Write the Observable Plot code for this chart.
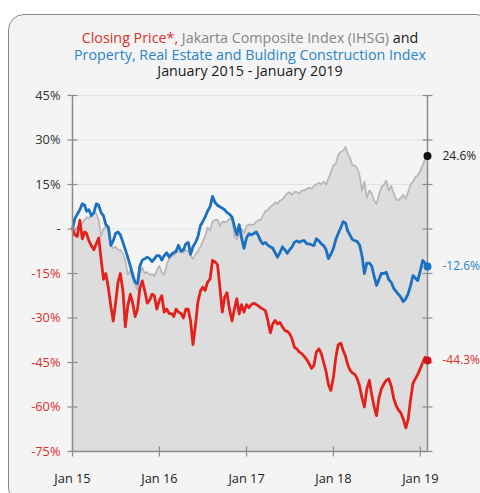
<!DOCTYPE html>
<html><head><meta charset="utf-8">
<script src="https://cdn.jsdelivr.net/npm/d3@7"></script>
<script src="https://cdn.jsdelivr.net/npm/@observablehq/plot@0.6"></script>
<style>
html,body{margin:0;padding:0;background:#fff;}
#wrap{position:relative;width:480px;height:493px;overflow:hidden;font-family:"Open Sans",sans-serif;}
#panel{position:absolute;left:8px;top:14px;width:484px;height:490px;border:1px solid #8a8a8a;border-radius:16px;background:#f4f4f4;box-sizing:border-box;}
#title{position:absolute;left:0;top:30px;width:500px;text-align:center;font-size:14.3px;color:#1a1a1a;white-space:nowrap;}
#title div{height:16.5px;line-height:16.5px;}
#title span{display:inline-block;line-height:16.5px;height:16.5px;}
#chart{position:absolute;left:0;top:80px;}
</style></head>
<body>
<div id="wrap">
<div id="panel"></div>
<div id="title">
<div><span style="color:#d9302c">Closing Price*,</span> <span style="color:#858585">Jakarta Composite Index (IHSG)</span> <span>and</span></div>
<div><span style="color:#2a85c6">Property, Real Estate and Bulding Construction Index</span></div>
<div><span>January 2015 - January 2019</span></div>
</div>
<div id="chart"></div>
</div>
<script>
// Sampling dates: 1st, 11th, 21st of each month, Jan 2015 - Jan 2019, plus last day
const sampleDays = [1, 11, 21];
const years = [2015, 2016, 2017, 2018];
const lastDays = ["2019-01-01", "2019-01-11", "2019-01-21", "2019-01-31"];

// Jakarta Composite Index (IHSG), % change since Jan 2015
const ihsg = [
  0,-0.8,0.8, 0.9,2,3, 4,3.6,4.5, 5.3,5.2,3, -2.5,0,0.8, -0.5,-5.5,-6.5, -6,-7,-7, -8.4,-10.5,-15.5, -14,-17,-18.5, -20.5,-15,-13, -15,-14.5,-15.5, -15.2,-16,-14,
  -12.4,-14.5,-15.5, -12,-10,-9, -9,-8,-7.5, -7.6,-8,-7, -7.7,-9,-10, -8.5,-7.5,-6, -4.3,-2.5,0.5, -0.5,2.5,3, 3.2,1,2.5, 2.3,2.5,3.5, 3.4,-2.5,-3.5, -1.8,0,-1.5,
  1,1.5,1.5, 1.5,2.5,3, 3,4.5,6, 6.5,7.5,8, 9,8.5,9.5, 10,11,12, 12.4,11.5,12.5, 12.5,12,13, 13,13.5,14, 13.5,14.5,15, 15.5,15,16, 15,17,19,
  21.5,22,25, 26,26.5,27.6, 25.5,24.2,21.5, 21.4,20.5,18, 13,16,10.5, 13,12,9.5, 8.5,11.5,14, 15,16.3,13, 14.5,12,10, 9.6,10.5,11.5, 10.2,12.5,15, 16,17.5,18,
  19.7,21.5,23.7,24.6
];
// Property, Real Estate and Building Construction Index, % change
const property = [
  0,3.5,5, 6.5,8.5,8, 6,6.5,4.5, 5.5,8.5,8, 5.5,4.5,1.5, 0.5,-5.5,-4, -1.5,-1,-2, -4.5,-7,-9.5, -12.5,-15.5,-18, -18.5,-12.5,-10.5, -10,-9.5,-10, -11,-10,-9,
  -9,-10.5,-9, -8,-9.5,-8.5, -8,-7.5,-5.5, -7.5,-7,-5, -4.5,-8.5,-6, -4.5,-2.5,1, 2.5,4,6, 7.5,11,9, 8,7.5,7, 6.5,5.5,5, 4,1,-2, 1.5,-3,-6.5,
  -3,-1.6,-2, -1.5,-1,-2.5, -4,-5,-4.5, -5.5,-6,-6.5, -8,-9.5,-8, -6,-7,-8.2, -7,-6,-4.5, -4,-4.5,-4, -3.9,-5,-5, -5.3,-5.6,-3.3, -4,-5,-5.6, -7,-10,-8.5,
  -6.5,-3.5,-1.5, 0.5,2.5,2, -0.5,-2,-3.5, -4,-4.2,-5.5, -9,-15,-11.5, -11.5,-12.5,-16, -19,-17,-15, -15,-14.6,-17, -18,-20,-21, -22,-23,-24.5, -23.5,-21.8,-19, -15.7,-16.5,-17.4,
  -14,-10.6,-11.5,-12.6
];
// Closing price, % change
const closing = [
  0,-2,-2.5, 3,-3.3,-1, -1.5,-4,-5.6, -7,-5,-3, -10,-17,-15, -20,-26,-31, -25,-18,-15, -21,-33,-26, -22,-25,-29.5, -27,-20,-17.5, -21,-25,-24, -22,-22.5,-27,
  -24,-22.5,-28, -27,-28.5,-28.5, -29.5,-27,-28, -28.5,-30,-27, -27,-31,-39, -32,-24.5,-21, -19.6,-20.7,-18, -16.8,-10.6,-11, -12,-19.6,-28, -23,-21.5,-27, -31,-27,-23.5, -28.6,-25.5,-28,
  -25.5,-26.5,-25.5, -25,-25.5,-26, -26.5,-27,-27.5, -31,-35,-32, -30.8,-32,-31.5, -33,-34.2,-34.5, -35.3,-37,-39.8, -40.5,-41.5,-42, -43,-44,-45.4, -47,-46,-41.5, -40.4,-42,-45, -48,-52.5,-54.4,
  -50,-43.2,-39, -38.5,-41,-43, -45.5,-47.5,-48.5, -49,-50.5,-53, -57,-60,-54, -51,-56,-60, -62.9,-57,-54, -52.2,-51,-50.5, -53,-57,-59.5, -61,-62,-64, -67,-64,-57.5, -52,-50.5,-49,
  -47,-45,-43.2,-44.3
];

const yTicks = [45, 30, 15, 0, -15, -30, -45, -60, -75];
const xTickDates = ["2015-01-01", "2016-01-01", "2017-01-01", "2018-01-01", "2019-01-01"];
const xTickLabels = ["Jan 15", "Jan 16", "Jan 17", "Jan 18", "Jan 19"];

const dates = [];
for (const y of years) for (let m = 0; m < 12; m++) for (const d of sampleDays) dates.push(new Date(Date.UTC(y, m, d)));
for (const s of lastDays) dates.push(new Date(s));

const rows = dates.map((date, i) => ({date, ihsg: ihsg[i], property: property[i], closing: closing[i]}));
const x0 = dates[0], x1 = dates[dates.length - 1];
const last = rows[rows.length - 1];

const RED = "#e3211c", BLUE = "#1b70c0", GRAY = "#b7b7b7";
const hTick = {draw(ctx, size) {const r = Math.sqrt(size / Math.PI); ctx.moveTo(-r, 0); ctx.lineTo(r, 0);}};
const vTick = {draw(ctx, size) {const r = Math.sqrt(size / Math.PI); ctx.moveTo(0, -r); ctx.lineTo(0, r);}};
const fmt = d => d === 0 ? "-" : d + "%";
const xTicks = xTickDates.map((d, i) => ({date: new Date(d), label: xTickLabels[i]}));
const ends = [
  {v: last.ihsg, dot: "#111", col: "#222"},
  {v: last.property, dot: BLUE, col: "#2a85c6"},
  {v: last.closing, dot: "#d0141a", col: "#d9302c"}
];

const chart = Plot.plot({
  width: 480, height: 413,
  marginTop: 15, marginBottom: 42, marginLeft: 72, marginRight: 53,
  x: {type: "utc", domain: [x0, x1], axis: null},
  y: {domain: [-75, 45], axis: null},
  style: {background: "transparent", fontFamily: "'Open Sans', sans-serif", fontSize: "12.8px"},
  marks: [
    Plot.ruleY(yTicks, {stroke: "#e2e2e2", strokeWidth: 1}),
    Plot.areaY(rows, {x: "date", y1: -75, y2: "ihsg", fill: "#dddddd"}),
    Plot.line(rows, {x: "date", y: "ihsg", stroke: GRAY, strokeWidth: 1.7}),
    Plot.line(rows, {x: "date", y: "property", stroke: BLUE, strokeWidth: 2.8}),
    Plot.line(rows, {x: "date", y: "closing", stroke: RED, strokeWidth: 2.8}),
    Plot.ruleX([x0, x1], {stroke: "#8c8c8c", strokeWidth: 1.5}),
    Plot.ruleY([-75], {stroke: "#8c8c8c", strokeWidth: 1.5}),
    Plot.dot(yTicks, {x: () => x0, y: d => d, symbol: hTick, r: 5, stroke: "#8c8c8c", strokeWidth: 1.2}),
    Plot.dot(yTicks, {x: () => x1, y: d => d, symbol: hTick, r: 5, stroke: "#8c8c8c", strokeWidth: 1.2}),
    Plot.dot(xTicks, {x: "date", y: () => -75, symbol: vTick, r: 5, stroke: "#8c8c8c", strokeWidth: 1.2}),
    Plot.text(yTicks.filter(d => d >= 0), {x: () => x0, y: d => d, text: fmt, textAnchor: "end", dx: -12, fill: "#333"}),
    Plot.text(yTicks.filter(d => d < 0), {x: () => x0, y: d => d, text: fmt, textAnchor: "end", dx: -12, fill: "#d9302c"}),
    Plot.text(xTicks, {x: "date", y: () => -75, text: "label", dy: 27, fill: "#222"}),
    Plot.dot(ends, {x: () => x1, y: "v", r: 4, fill: "dot", stroke: null}),
    Plot.text(ends, {x: () => x1, y: "v", text: d => d.v.toFixed(1) + "%", fill: "col", textAnchor: "start", dx: 15, fontSize: 12})
  ]
});
document.getElementById("chart").appendChild(chart);
</script>
</body></html>
